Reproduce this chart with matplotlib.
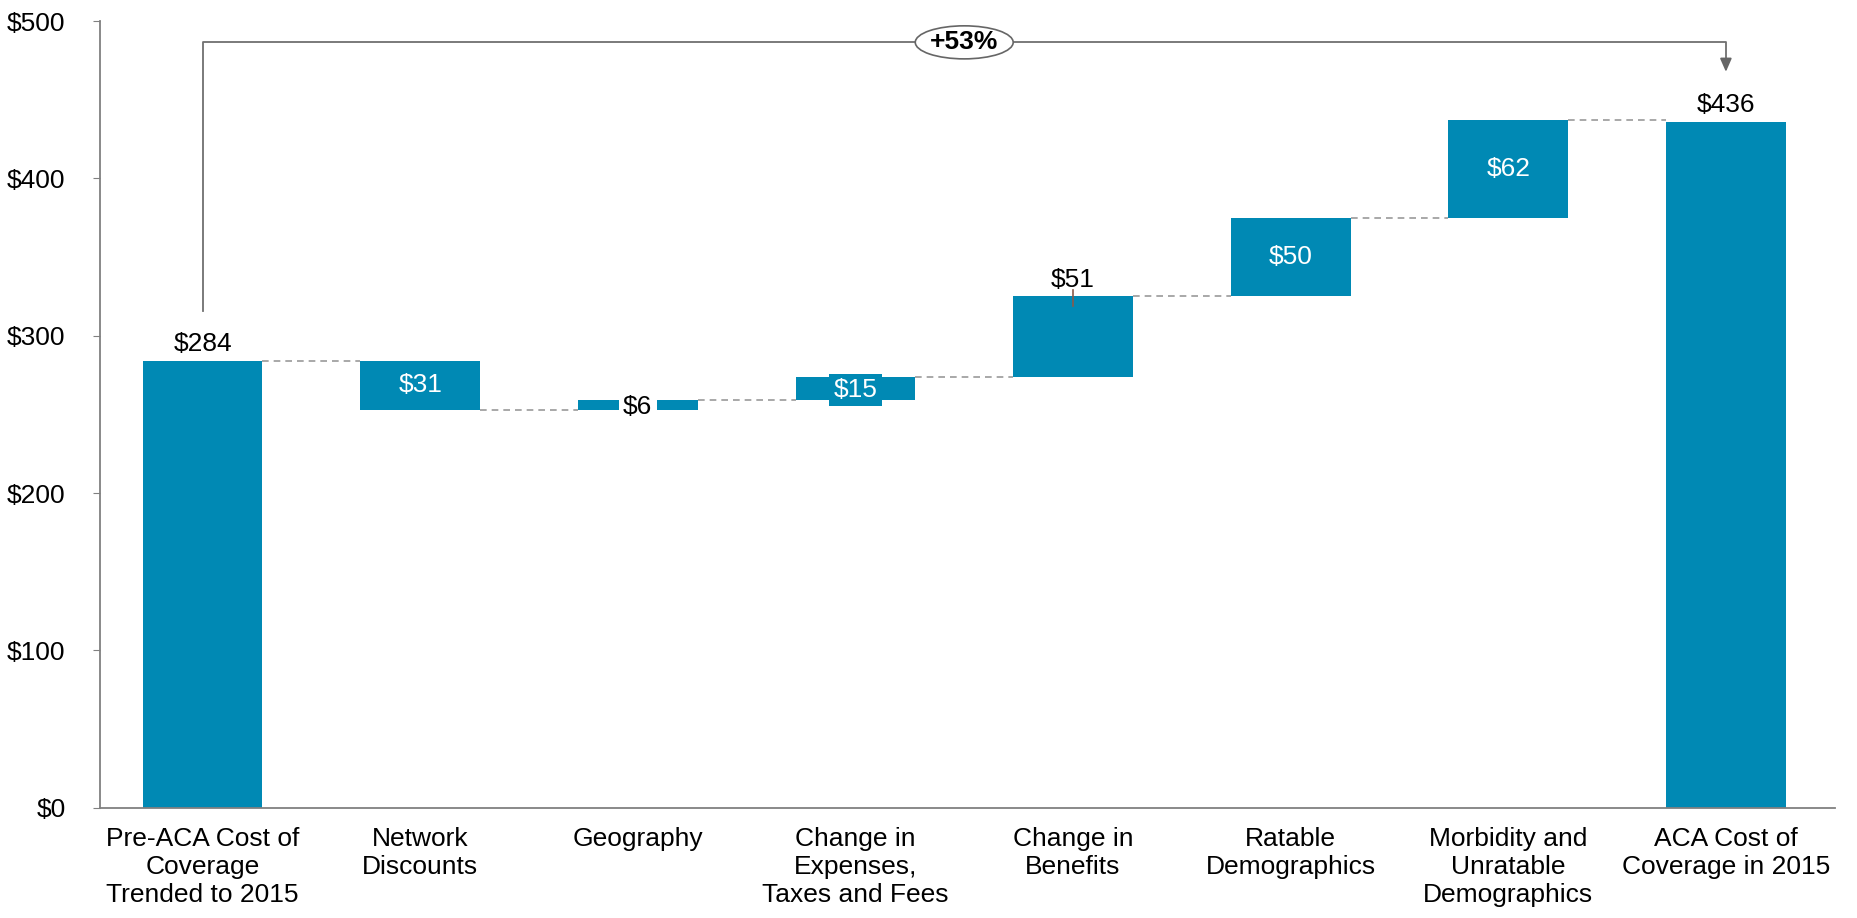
import matplotlib
matplotlib.use("Agg")
import matplotlib.pyplot as plt
from matplotlib.patches import Ellipse

plt.rcParams['font.family'] = ['Liberation Sans', 'DejaVu Sans']

categories = ["Pre-ACA Cost of\nCoverage\nTrended to 2015", "Network\nDiscounts", "Geography",
              "Change in\nExpenses,\nTaxes and Fees", "Change in\nBenefits", "Ratable\nDemographics",
              "Morbidity and\nUnratable\nDemographics", "ACA Cost of\nCoverage in 2015"]
start_value = 284
changes = [-31, 6, 15, 51, 50, 62]
end_value = 436
labels = ["$284", "$31", "$6", "$15", "$51", "$50", "$62", "$436"]
change_pct = "+53%"

color = "#0089B4"
fig = plt.figure(figsize=(18.57, 9.18), dpi=100)
ax = fig.add_axes([0.054, 0.12, 0.934, 0.857])

bottoms, heights = [0], [start_value]
level = start_value
for c in changes:
    lo, hi = sorted([level, level + c])
    bottoms.append(lo); heights.append(hi - lo)
    level += c
bottoms.append(0); heights.append(end_value)

x = list(range(len(categories)))
w = 0.55
ax.bar(x, heights, bottom=bottoms, width=w, color=color, zorder=2)

# connectors
tops = [start_value]
level = start_value
for c in changes:
    level += c
    tops.append(level)
for i in range(len(categories) - 1):
    ax.plot([i + w / 2, i + 1 - w / 2], [tops[i], tops[i]], ls=(0, (4, 3)), color="#999999", lw=1.2, zorder=1)

fs = 19
for i, lab in enumerate(labels):
    b, h = bottoms[i], heights[i]
    mid = b + h / 2
    if i in (0, 7):
        ax.text(i, b + h + 3, lab, ha="center", va="bottom", fontsize=fs)
    elif i == 2:
        ax.text(i, mid - 1.5, lab, ha="center", va="center", fontsize=fs, color="black",
                bbox=dict(facecolor="white", edgecolor="none", pad=3), zorder=3)
    elif i == 3:
        ax.text(i, mid - 1, lab, ha="center", va="center", fontsize=fs, color="white",
                bbox=dict(facecolor=color, edgecolor="none", pad=3), zorder=3)
    elif i == 4:
        ax.text(i, b + h + 3, lab, ha="center", va="bottom", fontsize=fs)
        ax.plot([i, i], [b + h + 4, b + h - 6], color="#8a5a4a", lw=1.2, zorder=3)
    else:
        ax.text(i, mid, lab, ha="center", va="center", fontsize=fs, color="white", zorder=3)

# bracket
ax.plot([0, 0, 7, 7], [316, 486.5, 486.5, 476], color="#707070", lw=1.3, zorder=1)
ax.annotate("", xy=(7, 466), xytext=(7, 477),
            arrowprops=dict(arrowstyle="-|>,head_width=0.35,head_length=0.8", color="#666666", lw=1.3))
ax.add_patch(Ellipse((3.5, 486.5), 0.45, 21, facecolor="white", edgecolor="#666666", lw=1.2, zorder=3))
ax.text(3.5, 486.5, change_pct, ha="center", va="center", fontsize=fs, fontweight="bold", zorder=4)

ax.set_xlim(-0.47, 7.5)
ax.set_ylim(0, 500)
ax.set_yticks([0, 100, 200, 300, 400, 500])
ax.set_yticklabels(["$0", "$100", "$200", "$300", "$400", "$500"], fontsize=fs)
ax.set_xticks(x)
ax.set_xticklabels(categories, fontsize=fs, linespacing=1.2)
ax.tick_params(axis="x", length=0, pad=14)
ax.tick_params(axis="y", length=5, color="#808080", pad=20)
for s in ["top", "right"]:
    ax.spines[s].set_visible(False)
for s in ["left", "bottom"]:
    ax.spines[s].set_color("#808080")
    ax.spines[s].set_linewidth(1.3)

fig.savefig("out.png", dpi=100)
